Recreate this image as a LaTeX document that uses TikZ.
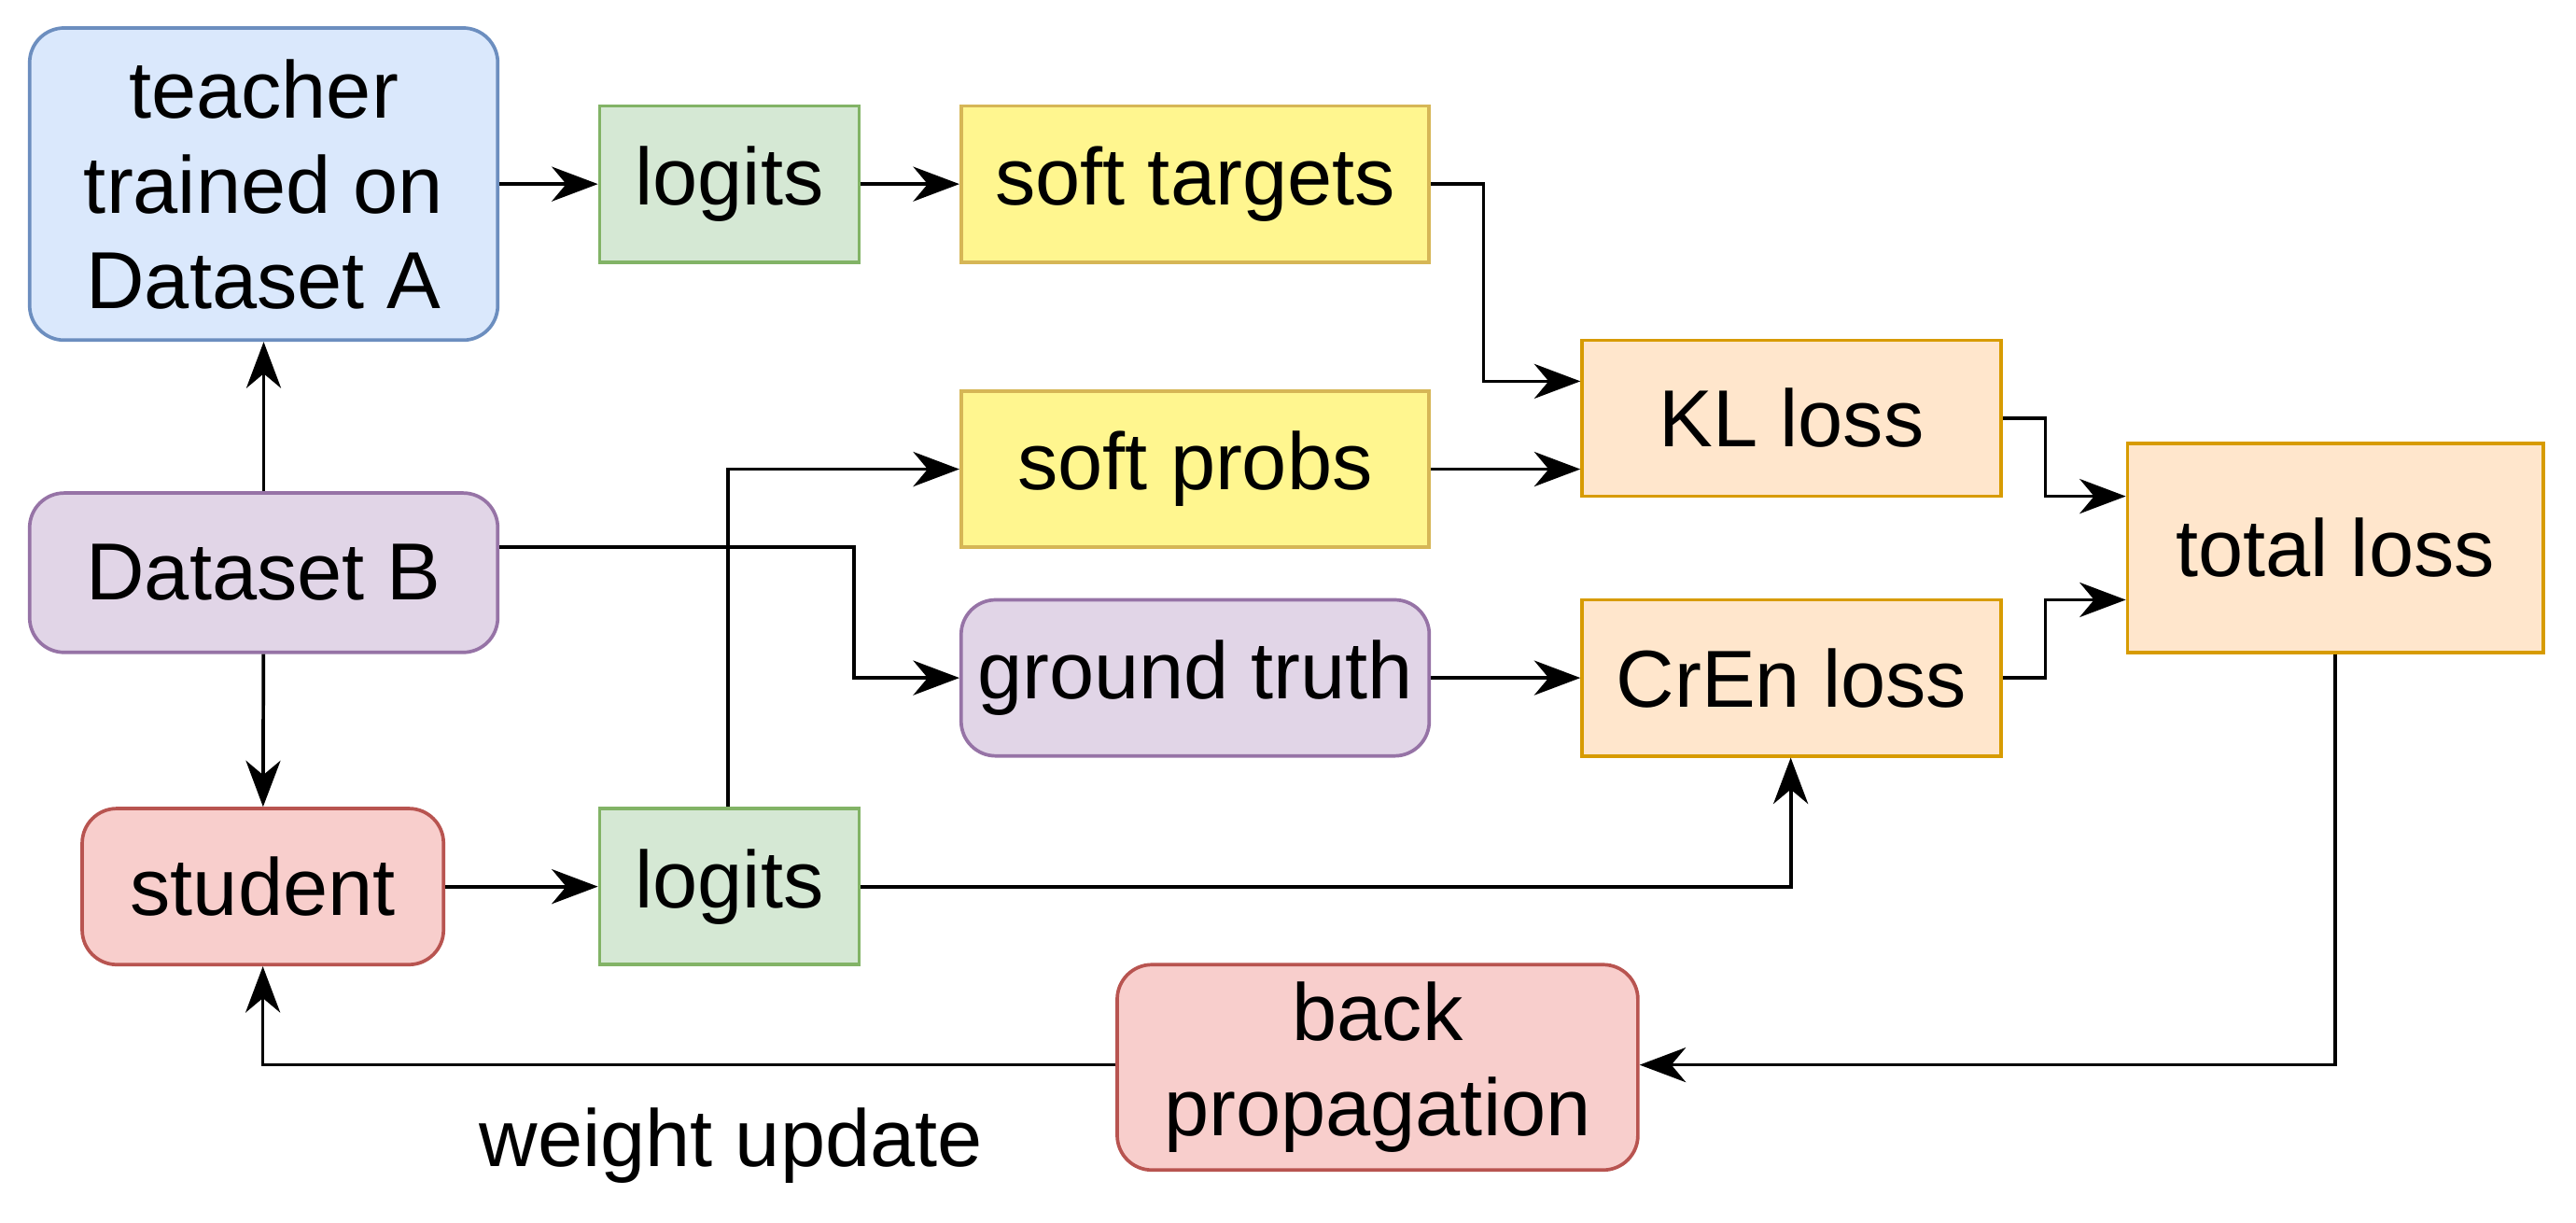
\documentclass[tikz,border=0pt]{standalone}
\usepackage{fontspec}
\setmainfont{Liberation Sans}
\usetikzlibrary{arrows.meta}
\definecolor{bfill}{HTML}{DAE8FC}\definecolor{bline}{HTML}{6C8EBF}
\definecolor{gfill}{HTML}{D5E8D4}\definecolor{gline}{HTML}{82B366}
\definecolor{yfill}{HTML}{FFF68F}\definecolor{yline}{HTML}{D6B656}
\definecolor{ofill}{HTML}{FFE6CC}\definecolor{oline}{HTML}{D79B00}
\definecolor{pfill}{HTML}{E1D5E7}\definecolor{pline}{HTML}{9673A6}
\definecolor{rfill}{HTML}{F8CECC}\definecolor{rline}{HTML}{B85450}
\begin{document}
\begin{tikzpicture}[x=0.02cm,y=-0.02cm,
  font=\fontsize{28}{33}\selectfont,
  bx/.style={draw,line width=1.2pt,align=center,inner sep=0pt},
  rb/.style={bx,rounded corners=12pt},
  ar/.style={-{Stealth[length=16pt,width=12pt,inset=5pt]},line width=1.2pt}]
\useasboundingbox (0,0) rectangle (1568,744);
\newcommand{\bxat}[5]{\node[#1,minimum width=#4*0.02cm,minimum height=#5*0.02cm] (#2) at (#3) {};}
\node[rb,fill=bfill,draw=bline,minimum width=5.7cm,minimum height=3.8cm] (teach) at (160.5,112) {teacher\\trained on\\Dataset A};
\node[bx,fill=gfill,draw=gline,minimum width=3.16cm,minimum height=1.9cm] (lt) at (444,112) {logits};
\node[bx,fill=yfill,draw=yline,minimum width=5.7cm,minimum height=1.9cm] (st) at (727.5,112) {soft targets};
\node[bx,fill=ofill,draw=oline,minimum width=5.1cm,minimum height=1.9cm] (kl) at (1090.5,254.5) {KL loss};
\node[bx,fill=yfill,draw=yline,minimum width=5.7cm,minimum height=1.9cm] (sp) at (727.5,285.5) {soft probs};
\node[bx,fill=ofill,draw=oline,minimum width=5.06cm,minimum height=2.54cm] (tl) at (1421.5,333.5) {total loss};
\node[rb,fill=pfill,draw=pline,minimum width=5.7cm,minimum height=1.94cm] (db) at (160.5,348.5) {Dataset B};
\node[rb,fill=pfill,draw=pline,minimum width=5.7cm,minimum height=1.9cm] (gt) at (727.5,412.5) {ground truth};
\node[bx,fill=ofill,draw=oline,minimum width=5.1cm,minimum height=1.9cm] (ce) at (1090.5,412.5) {CrEn loss};
\node[rb,fill=rfill,draw=rline,minimum width=4.4cm,minimum height=1.9cm] (stu) at (160,539.5) {student};
\node[bx,fill=gfill,draw=gline,minimum width=3.16cm,minimum height=1.9cm] (lb) at (444,539.5) {logits};
\node[rb,fill=rfill,draw=rline,minimum width=6.34cm,minimum height=2.5cm] (bp) at (838.5,649.5) {back\\propagation};
\node (wu) at (445,697) {weight update};
\draw[ar] (teach.east|-lt) -- (lt);
\draw[ar] (lt) -- (st);
\draw[ar] (st.east) -- (903,112) |- (kl.west|-0,232);
\draw[ar] (sp.east) -- (sp.east-|kl.west);
\draw[ar] (kl.east) -- (1245,254.5) |- (tl.west|-0,302);
\draw[ar] (ce.east) -- (1245,412.5) |- (tl.west|-0,365);
\draw[ar] (db) -- (teach);
\draw[ar] (db) -- (stu);
\draw[ar] (db.east|-0,333) -- (520,333) |- (gt.west);
\draw[ar] (gt) -- (ce);
\draw[ar] (stu) -- (lb);
\draw[ar] (lb.north-|443,0) |- (sp.west);
\draw[ar] (lb.east) -| (ce.south-|1090,0);
\draw[ar] (tl.south) |- (bp.east|-0,648);
\draw[ar] (bp.west|-0,648) -| (stu.south);
\end{tikzpicture}
\end{document}
